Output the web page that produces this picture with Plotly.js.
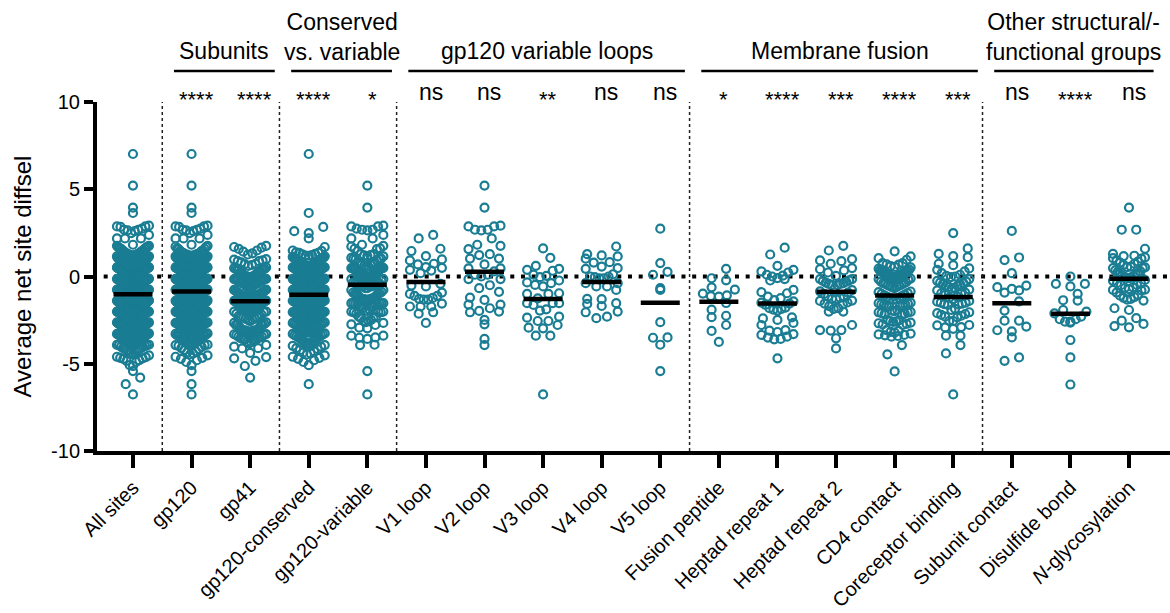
<!DOCTYPE html>
<html>
<head>
<meta charset="utf-8">
<script src="https://cdn.plot.ly/plotly-3.0.1.min.js"></script>
<style>html,body{margin:0;padding:0;background:#fff;}#chart{width:1170px;height:613px;}</style>
</head>
<body>
<div id="chart"></div>
<script>
// ---------------- DATA ----------------
const categories = ['All sites','gp120','gp41','gp120-conserved','gp120-variable','V1 loop','V2 loop','V3 loop','V4 loop','V5 loop','Fusion peptide','Heptad repeat 1','Heptad repeat 2','CD4 contact','Coreceptor binding','Subunit contact','Disulfide bond','<i>N</i>-glycosylation'];
const significance = ['','****','****','****','*','ns','ns','**','ns','ns','*','****','***','****','***','ns','****','ns'];
const yTickValues = [-10, -5, 0, 5, 10];
const yTickLabels = ['-10', '-5', '0', '5', '10'];
const groupLabels = ['Subunits','Conserved<br>vs. variable','gp120 variable loops','Membrane fusion','Other structural/-<br>functional groups'];
const groupFirst = [1,3,5,10,15];
const groupLast  = [2,4,9,14,17];

const v1Loop = [2.38,2.18,1.59,1.46,1.17,0.98,0.92,0.73,0.69,0.54,0.50,0.38,0.34,0.19,-0.42,-0.52,-0.57,-0.92,-1.00,-1.11,-1.11,-1.23,-1.28,-1.32,-1.32,-1.55,-1.72,-1.72,-1.72,-2.05,-2.13,-2.66];
const v2Loop = [5.21,3.95,2.91,2.87,2.87,2.68,2.68,2.64,2.18,1.82,1.76,1.57,1.28,1.23,1.03,1.03,0.69,0.46,0.46,0.29,0.10,0.10,0.00,-0.15,-0.15,-0.50,-0.67,-0.88,-1.21,-1.34,-1.61,-1.61,-1.82,-1.97,-2.01,-2.05,-2.49,-2.74,-3.58,-3.93];
const v3Loop = [1.61,1.07,0.61,0.44,0.38,0.33,0.10,0.04,-0.04,-0.23,-0.34,-0.38,-0.48,-0.57,-0.96,-1.00,-1.00,-1.25,-1.53,-1.53,-1.53,-1.63,-1.88,-1.95,-2.30,-2.36,-2.55,-2.55,-2.78,-2.93,-2.97,-3.39,-3.39,-6.76];
const v4Loop = [1.72,1.28,1.21,1.15,1.02,0.82,0.80,0.57,0.48,0.44,0.13,0.00,0.00,-0.04,-0.10,-0.10,-0.38,-0.38,-0.57,-0.57,-0.77,-1.28,-1.30,-1.53,-1.57,-1.69,-2.01,-2.05,-2.30,-2.39];
const v5Loop = [2.74,0.77,0.27,0.10,-0.67,-0.77,-2.62,-3.49,-3.51,-3.91,-5.42];

const gp120Conserved = [
7.02,3.64,2.84,2.60,2.49,2.18,1.69,
1.49,1.47,1.38,1.36,1.35,1.30,1.27,1.23,1.20,1.19,1.16,1.12,1.09,1.08,1.05,1.04,1.02,1.00,
0.99,0.96,0.96,0.92,0.90,0.89,0.86,0.83,0.83,0.80,0.79,0.75,0.74,0.74,0.71,0.68,0.68,0.65,0.63,0.62,0.61,0.58,0.57,0.56,0.55,0.53,0.52,0.52,0.51,0.50,
0.49,0.48,0.45,0.45,0.42,0.41,0.39,0.38,0.37,0.34,0.33,0.30,0.30,0.28,0.27,0.24,0.23,0.23,0.20,0.19,0.17,0.16,0.14,0.13,0.11,0.10,0.10,0.07,0.06,0.05,0.04,0.02,0.02,0.00,
-0.01,-0.03,-0.04,-0.06,-0.07,-0.09,-0.10,-0.12,-0.13,-0.15,-0.17,-0.17,-0.20,-0.21,-0.22,-0.24,-0.26,-0.27,-0.29,-0.30,-0.32,-0.33,-0.35,-0.36,-0.38,-0.39,-0.41,-0.42,-0.44,-0.45,-0.46,-0.47,-0.49,-0.50,
-0.51,-0.53,-0.54,-0.56,-0.57,-0.59,-0.60,-0.62,-0.64,-0.65,-0.67,-0.68,-0.70,-0.71,-0.73,-0.75,-0.76,-0.77,-0.79,-0.81,-0.82,-0.84,-0.85,-0.86,-0.88,-0.89,-0.91,-0.93,-0.94,-0.95,-0.97,-0.98,-1.00,
-1.01,-1.03,-1.05,-1.06,-1.08,-1.11,-1.12,-1.13,-1.15,-1.18,-1.18,-1.20,-1.23,-1.24,-1.25,-1.28,-1.29,-1.31,-1.32,-1.34,-1.36,-1.37,-1.39,-1.40,-1.43,-1.44,-1.45,-1.47,-1.48,-1.50,
-1.52,-1.54,-1.57,-1.58,-1.60,-1.62,-1.64,-1.65,-1.67,-1.70,-1.71,-1.73,-1.75,-1.78,-1.79,-1.81,-1.83,-1.86,-1.87,-1.88,-1.91,-1.92,-1.94,-1.96,-1.98,-1.99,
-2.02,-2.04,-2.07,-2.09,-2.12,-2.13,-2.16,-2.18,-2.21,-2.22,-2.25,-2.27,-2.29,-2.32,-2.34,-2.36,-2.38,-2.41,-2.43,-2.45,-2.47,-2.49,
-2.52,-2.55,-2.58,-2.60,-2.63,-2.66,-2.69,-2.71,-2.74,-2.77,-2.79,-2.83,-2.85,-2.88,-2.90,-2.94,-2.96,-2.99,
-3.02,-3.06,-3.09,-3.12,-3.16,-3.19,-3.22,-3.26,-3.29,-3.32,-3.36,-3.39,-3.42,-3.46,-3.49,
-3.52,-3.57,-3.60,-3.64,-3.69,-3.72,-3.77,-3.80,-3.85,-3.88,-3.93,-3.97,
-4.03,-4.10,-4.16,-4.22,-4.29,-4.35,-4.41,-4.47,
-4.52,-4.60,-4.66,-4.72,-4.80,-4.90,
-5.08,-6.17];

const fusionPeptide = [0.44,-0.10,-0.22,-0.62,-0.75,-0.98,-1.08,-1.12,-1.15,-1.52,-1.90,-2.25,-2.33,-2.78,-3.12,-3.75];
const heptadRepeat1 = [1.65,1.26,0.61,0.38,0.29,0.23,0.10,0.05,0.00,-0.09,-0.15,-0.23,-0.77,-0.90,-0.96,-1.15,-1.24,-1.35,-1.42,-1.50,-1.55,-1.62,-1.78,-1.82,-1.86,-1.90,-1.95,-2.34,-2.40,-2.49,-2.66,-2.78,-3.07,-3.10,-3.18,-3.30,-3.35,-3.45,-3.50,-3.58,-3.60,-4.69];
const heptadRepeat2 = [1.76,1.49,1.00,0.92,0.88,0.73,0.48,0.42,0.35,0.23,0.04,-0.15,-0.22,-0.30,-0.38,-0.42,-0.48,-0.48,-0.42,-0.35,-0.25,-0.15,-0.70,-0.78,-0.85,-0.92,-1.00,-1.15,-1.22,-1.30,-1.38,-1.49,-1.40,-1.28,-1.15,-1.55,-1.60,-1.82,-2.01,-2.01,-1.85,-1.70,-2.78,-3.07,-3.07,-3.10,-3.54,-4.12];
const gp41Other = [1.69,1.58,1.42,1.33,0.97,0.88,0.81,0.66,0.71,0.52,0.43,0.37,0.24,0.18,0.09,0.02,-0.06,-0.14,-0.19,-0.31,-0.38,-0.44,-0.58,-0.61,-0.73,-0.79,-0.86,-0.94,-1.02,-1.07,-1.16,-1.21,-1.27,-1.34,-1.41,-1.47,-1.56,-1.63,-1.69,-1.74,-1.83,-1.91,-1.97,-2.04,-2.13,-2.18,-2.26,-2.33,-2.41,-2.47,-2.56,-2.63,-2.71,-2.77,-2.86,-2.93,-3.01,-3.09,-3.14,-3.22,-3.31,-3.36,-3.44,-3.53,-3.61,-3.68,-3.77,-3.84,-3.92,-4.02,-4.11,-4.38,-4.62,-4.83,-5.13,-5.79];

const cd4Contact = [1.44,1.15,1.05,0.96,0.77,0.70,0.60,0.52,0.45,0.40,0.55,0.68,0.77,0.35,0.33,0.30,0.28,0.26,0.24,0.22,0.19,0.18,0.16,0.14,0.13,0.12,0.10,0.08,0.06,0.05,0.02,0.00,-0.02,-0.05,-0.08,-0.10,-0.12,-0.15,-0.18,-0.29,-0.33,-0.38,-0.40,-0.42,-0.46,-0.50,-0.52,-0.55,-0.58,-0.62,-0.67,-0.86,-0.90,-0.95,-1.00,-1.04,-1.08,-1.12,-1.17,-1.22,-1.27,-1.30,-1.34,-1.50,-1.53,-1.56,-1.59,-1.60,-1.62,-1.65,-1.68,-1.70,-1.72,-1.92,-1.95,-1.99,-2.03,-2.05,-2.06,-2.10,-2.13,-2.17,-2.20,-2.49,-2.52,-2.56,-2.58,-2.60,-2.64,-2.68,-2.72,-2.75,-2.78,-3.07,-3.12,-3.17,-3.22,-3.27,-3.32,-3.35,-3.37,-3.41,-3.45,-3.93,-4.46,-5.44];
const coreceptorBinding = [2.49,1.61,1.30,1.17,1.11,0.73,0.65,0.46,0.38,0.29,0.19,0.10,0.04,0.00,-0.04,-0.15,-0.25,-0.29,-0.35,-0.38,-0.42,-0.48,-0.52,-0.52,-0.60,-0.65,-0.70,-0.75,-0.80,-0.92,-0.96,-1.00,-1.05,-1.15,-1.22,-1.30,-1.40,-1.44,-1.50,-1.50,-1.55,-1.58,-1.60,-1.63,-1.85,-1.92,-2.05,-2.10,-2.15,-2.20,-2.25,-2.30,-2.34,-2.55,-2.55,-2.78,-2.80,-2.90,-2.92,-3.00,-3.39,-3.39,-3.93,-4.41,-6.76];
const subunitContact = [2.61,1.09,0.94,0.19,-0.52,-0.61,-0.71,-0.80,-0.92,-1.42,-1.95,-2.53,-2.53,-2.87,-3.08,-3.14,-3.49,-4.64,-4.83];
const disulfideBond = [0.00,-0.42,-0.42,-0.57,-1.00,-1.36,-1.38,-1.92,-2.01,-2.11,-2.30,-2.45,-2.45,-2.59,-2.59,-2.64,-3.64,-4.64,-6.19];
const nGlycosylation = [3.95,2.68,2.68,1.59,1.30,1.19,1.17,1.09,1.05,1.02,0.92,0.86,0.80,0.73,0.67,0.57,0.54,0.52,0.48,0.48,0.35,0.30,0.25,0.19,0.15,0.12,0.05,0.02,-0.02,-0.05,-0.08,-0.10,-0.20,-0.25,-0.38,-0.38,-0.48,-0.50,-0.62,-0.65,-0.72,-0.75,-0.77,-0.80,-0.92,-1.05,-1.10,-1.18,-1.22,-1.28,-1.32,-1.38,-1.82,-1.92,-2.39,-2.53,-2.72,-2.84,-2.91];

// composed groups (site sets are unions of the sub-regions)
const gp120Variable = [].concat(v1Loop, v2Loop, v3Loop, v4Loop, v5Loop);
const gp120 = [].concat(gp120Conserved, gp120Variable);
const gp41 = [].concat(fusionPeptide, heptadRepeat1, heptadRepeat2, gp41Other);
const allSites = [].concat(gp120, gp41);

const seriesValues = [allSites, gp120, gp41, gp120Conserved, gp120Variable, v1Loop, v2Loop, v3Loop, v4Loop, v5Loop,
  fusionPeptide, heptadRepeat1, heptadRepeat2, cd4Contact, coreceptorBinding, subunitContact, disulfideBond, nGlycosylation];

// ---------------- LAYOUT / STYLE ----------------
const TEAL = '#1a7d93';
const FONT = 'Arial, "Liberation Sans", Helvetica, sans-serif';
const M = {l: 97, r: 0, t: 102, b: 162};
const XR = [-0.614, 17.70];
const YR = [-10, 10];
const plotW = 1170 - M.l - M.r, plotH = 613 - M.t - M.b;
const PX_X = plotW / (XR[1] - XR[0]);
const PX_Y = plotH / (YR[1] - YR[0]);
const BIN_H = 11 / PX_Y;      // row height of the swarm (data units)
const BIN_OFF = -0.1;
const HALF_W = 16;            // px
const MAX_SP = 14.5;          // px

function swarm(vals, ci) {
  const sorted = vals.slice().sort((a, b) => a - b);
  const bins = new Map();
  sorted.forEach(v => {
    const k = Math.floor((v - BIN_OFF) / BIN_H);
    if (!bins.has(k)) bins.set(k, []);
    bins.get(k).push(v);
  });
  const xs = [], ys = [];
  bins.forEach(arr => {
    const n = arr.length;
    const sp = n > 1 ? Math.min(MAX_SP, 2 * HALF_W / (n - 1)) : 0;
    arr.forEach((v, k) => {
      let off;
      if (n % 2 === 1) { const j = Math.ceil(k / 2); off = (k % 2 === 1 ? -j : j) * sp; }
      else { const j = Math.floor(k / 2) + 0.5; off = (k % 2 === 0 ? -j : j) * sp; }
      xs.push(ci + off / PX_X); ys.push(v);
    });
  });
  return {xs, ys};
}
const mean = a => a.reduce((s, v) => s + v, 0) / a.length;

const traces = [];
seriesValues.forEach((vals, i) => {
  const s = swarm(vals, i);
  traces.push({type: 'scatter', mode: 'markers', x: s.xs, y: s.ys, hoverinfo: 'skip', showlegend: false,
    marker: {symbol: 'circle-open', size: 8, color: TEAL, line: {width: 2.2, color: TEAL}}});
});
const bx = [], by = [];
const BAR_HALF = 19.5 / PX_X;
seriesValues.forEach((vals, i) => { const m = mean(vals); bx.push(i - BAR_HALF, i + BAR_HALF, null); by.push(m, m, null); });
traces.push({type: 'scatter', mode: 'lines', x: bx, y: by, hoverinfo: 'skip', showlegend: false,
  line: {color: '#000', width: 4.5}});

const pyToPaper = py => (613 - M.b - py) / plotH;
const shapes = [];
const annotations = [];
// zero reference line
shapes.push({type: 'line', layer: 'below', xref: 'x', yref: 'y', x0: -0.5, x1: XR[1], y0: 0, y1: 0,
  line: {color: '#000', width: 4, dash: '4px,6.7px'}});
groupLabels.forEach((lab, g) => {
  const a = groupFirst[g] - 0.3, b = groupLast[g] + 0.42;
  shapes.push({type: 'line', xref: 'x', yref: 'paper', x0: a, x1: b, y0: pyToPaper(71), y1: pyToPaper(71),
    line: {color: '#000', width: 2.5}});
  shapes.push({type: 'line', xref: 'x', yref: 'y', x0: groupFirst[g] - 0.5, x1: groupFirst[g] - 0.5, y0: -10, y1: 10,
    line: {color: '#222', width: 1.5, dash: 'dot'}});
  const two = lab.indexOf('<br>') >= 0;
  annotations.push({xref: 'x', yref: 'paper', x: (a + b) / 2, y: pyToPaper(two ? 37 : 51), text: lab, showarrow: false,
    xanchor: 'center', yanchor: 'middle', font: {family: FONT, size: 23, color: '#000'}});
});
significance.forEach((s, i) => {
  if (!s) return;
  const ns = s === 'ns';
  annotations.push({xref: 'x', yref: 'paper', x: i + 0.08, y: pyToPaper(ns ? 92 : 99), text: s, showarrow: false,
    xanchor: 'center', yanchor: 'middle', font: {family: FONT, size: ns ? 23 : 22, color: '#000'}});
});
annotations.push({xref: 'paper', yref: 'paper', x: (22 - M.l) / plotW, y: 0.5, text: 'Average net site diffsel', textangle: -90,
  showarrow: false, xanchor: 'center', yanchor: 'middle', font: {family: FONT, size: 24, color: '#000'}});

const layout = {
  width: 1170, height: 613, margin: M, paper_bgcolor: '#fff', plot_bgcolor: '#fff',
  font: {family: FONT, color: '#000'}, showlegend: false,
  xaxis: {range: XR, tickvals: categories.map((c, i) => i), ticktext: categories, tickangle: -45,
    ticks: 'outside', ticklen: 13, tickwidth: 4, tickcolor: '#000', showline: true, linewidth: 4, linecolor: '#000',
    showgrid: false, zeroline: false, tickfont: {family: FONT, size: 20, color: '#000'}, fixedrange: true},
  yaxis: {range: YR, tickvals: yTickValues, ticktext: yTickLabels, ticks: 'outside', ticklen: 9, tickwidth: 4, tickcolor: '#000',
    showline: true, linewidth: 4, linecolor: '#000', showgrid: false, zeroline: false,
    tickfont: {family: FONT, size: 20, color: '#000'}, fixedrange: true},
  shapes: shapes, annotations: annotations
};
Plotly.newPlot('chart', traces, layout, {staticPlot: true, displayModeBar: false});
</script>
</body>
</html>
